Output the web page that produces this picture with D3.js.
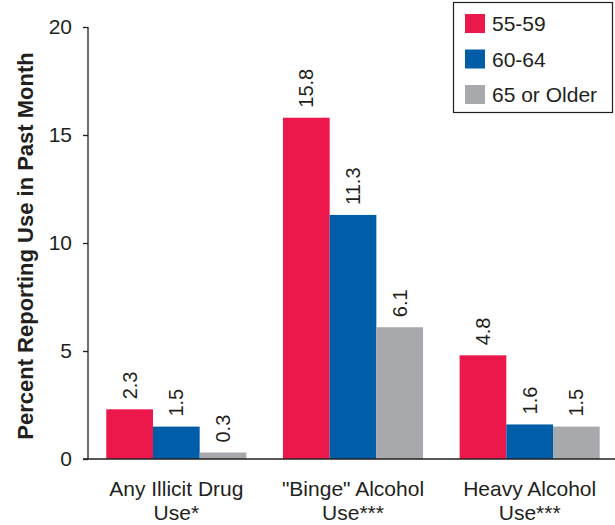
<!DOCTYPE html>
<html lang="en">
<head>
  <meta charset="UTF-8">
  <title>Percent Reporting Use in Past Month</title>
  <style>
    body { margin: 0; background: #fff; }
    text { font-family: "Liberation Sans", Arial, sans-serif; fill: #231f20; }
  </style>
  <script src="https://d3js.org/d3.v7.min.js"></script>
</head>
<body>
<div id="chart"></div>
<script>
  // Data
  var categories = [["Any Illicit Drug", "Use*"], ["\"Binge\" Alcohol", "Use***"], ["Heavy Alcohol", "Use***"]];
  var seriesNames = ["55-59", "60-64", "65 or Older"];
  var colors = ["#ec174b", "#005da8", "#a7a9ac"];
  var values55 = [2.3, 15.8, 4.8];
  var values60 = [1.5, 11.3, 1.6];
  var values65 = [0.3, 6.1, 1.5];
  var yTicks = [0, 5, 10, 15, 20];

  var series = [values55, values60, values65];

  var width = 615, height = 525;
  var svg = d3.select("#chart").append("svg")
    .attr("width", width)
    .attr("height", height);

  // Scales
  var x = d3.scaleBand()
    .domain(d3.range(categories.length))
    .range([88, 618])
    .paddingInner(0.207)
    .paddingOuter(0.1035);

  var xInner = d3.scaleBand()
    .domain(d3.range(seriesNames.length))
    .range([0, x.bandwidth()]);

  var y = d3.scaleLinear()
    .domain([0, 20])
    .range([459, 27]);

  // Bars
  var groups = svg.append("g").selectAll("g")
    .data(categories)
    .enter().append("g")
    .attr("transform", (d, i) => "translate(" + x(i) + ",0)");

  groups.each(function(c, ci) {
    var g = d3.select(this);
    series.forEach(function(vals, si) {
      g.append("rect")
        .attr("x", xInner(si))
        .attr("y", y(vals[ci]))
        .attr("width", xInner.bandwidth())
        .attr("height", y(0) - y(vals[ci]))
        .attr("fill", colors[si]);

      var cx = xInner(si) + xInner.bandwidth() / 2;
      var ty = y(vals[ci]) - 10;
      g.append("text")
        .attr("transform", "translate(" + (cx + 7) + "," + ty + ") rotate(-90)")
        .attr("font-size", 20)
        .text(vals[ci].toFixed(1));
    });
  });

  // Y axis
  var yAxis = d3.axisLeft(y)
    .tickValues(yTicks)
    .tickSize(5)
    .tickPadding(11);

  var ya = svg.append("g")
    .attr("transform", "translate(88,0)")
    .call(yAxis);
  ya.select(".domain").attr("stroke", "#231f20").attr("stroke-width", 1.3).attr("d", "M0,27V459");
  ya.selectAll(".tick line").attr("stroke", "#231f20").attr("stroke-width", 1.3);
  ya.selectAll(".tick text")
    .attr("font-size", 21)
    .attr("font-family", "Liberation Sans, Arial, sans-serif")
    .attr("fill", "#231f20");

  // Baseline
  svg.append("line")
    .attr("x1", 83).attr("x2", 615)
    .attr("y1", y(0)).attr("y2", y(0))
    .attr("stroke", "#231f20")
    .attr("stroke-width", 1.5);

  // Y axis title
  svg.append("text")
    .attr("transform", "translate(33," + (y(10) + 3) + ") rotate(-90)")
    .attr("text-anchor", "middle")
    .attr("font-size", 22)
    .attr("font-weight", "bold")
    .text("Percent Reporting Use in Past Month");

  // X labels
  var xl = svg.append("g").selectAll("text")
    .data(categories)
    .enter().append("text")
    .attr("x", (d, i) => x(i) + x.bandwidth() / 2)
    .attr("y", 496)
    .attr("text-anchor", "middle")
    .attr("font-size", 21);
  xl.append("tspan").text(d => d[0]);
  xl.append("tspan")
    .attr("x", (d, i) => x(i) + x.bandwidth() / 2)
    .attr("dy", 24)
    .text(d => d[1]);

  // Legend
  var legend = svg.append("g");
  legend.append("rect")
    .attr("x", 453.5).attr("y", 2.5)
    .attr("width", 159).attr("height", 110)
    .attr("fill", "#fff")
    .attr("stroke", "#231f20")
    .attr("stroke-width", 1.2);

  var items = legend.selectAll("g.item")
    .data(seriesNames)
    .enter().append("g")
    .attr("class", "item")
    .attr("transform", (d, i) => "translate(465," + (14 + i * 35.5) + ")");
  items.append("rect")
    .attr("width", 20).attr("height", 19)
    .attr("fill", (d, i) => colors[i]);
  items.append("text")
    .attr("x", 27)
    .attr("y", 17)
    .attr("font-size", 21)
    .text(d => d);
</script>
</body>
</html>
